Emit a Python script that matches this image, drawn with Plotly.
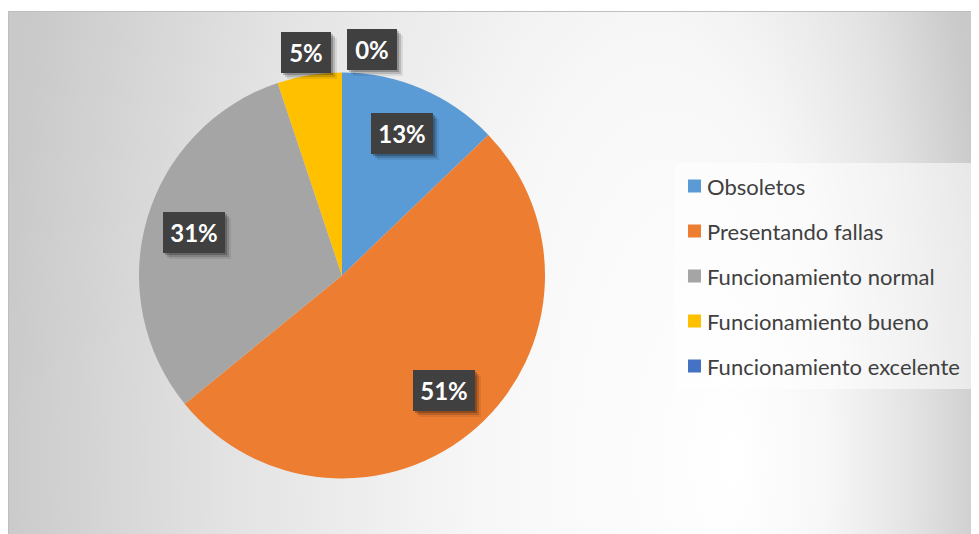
import base64
import math
import plotly.graph_objects as go

# ---------------- data ----------------
categories = ["Obsoletos", "Presentando fallas", "Funcionamiento normal",
              "Funcionamiento bueno", "Funcionamiento excelente"]
counts = [5, 20, 12, 2, 0]
colors = ["#5B9BD5", "#ED7D31", "#A5A5A5", "#FFC000", "#4472C4"]

# the page body has an 8px margin; the figure fills the rest of the window
OFF = 8
W, H = 979 - OFF, 534 - OFF

def px(x):  # page x -> paper
    return (x - OFF) / W

def py(y):  # page y -> paper
    return 1 - (y - OFF) / H

# pie geometry (page pixels)
CX, CY, R = 342, 275.5, 203

fig = go.Figure()
fig.add_trace(go.Pie(
    labels=categories, values=counts, sort=False, direction="clockwise",
    rotation=0, textinfo="none", showlegend=False,
    marker=dict(colors=colors, line=dict(width=0)),
    domain=dict(x=[px(CX - R), px(CX + R)], y=[py(CY + R), py(CY - R)]),
    hovertemplate="%{label}: %{percent}<extra></extra>",
))

# ---------------- background gradient ----------------
GW, GH = 971, 523
svg = f'''<svg xmlns="http://www.w3.org/2000/svg" width="{GW}" height="{GH}" viewBox="0 0 {GW} {GH}" preserveAspectRatio="none">
<defs><radialGradient id="g" gradientUnits="userSpaceOnUse" cx="487" cy="450" r="500" fx="730" fy="450"
 gradientTransform="translate(0,450) scale(1,2.4) translate(0,-450)">
<stop offset="0" stop-color="#ffffff"/><stop offset="0.35" stop-color="#f7f7f7"/>
<stop offset="0.7" stop-color="#e2e2e2"/><stop offset="1" stop-color="#c9c9c9"/>
</radialGradient></defs><rect x="0" y="0" width="{GW}" height="{GH}" fill="url(#g)"/></svg>'''
src = "data:image/svg+xml;base64," + base64.b64encode(svg.encode()).decode()

images = [dict(source=src, xref="paper", yref="paper", x=px(8), y=py(11),
               sizex=px(979) - px(8), sizey=py(11) - py(534),
               xanchor="left", yanchor="top", sizing="stretch", layer="below")]

shapes = [
    dict(type="rect", xref="paper", yref="paper", x0=px(8.5), x1=px(990), y0=py(11.5), y1=py(545),
         line=dict(color="#bfbfbf", width=1), fillcolor="rgba(0,0,0,0)", layer="above"),
    dict(type="rect", xref="paper", yref="paper", x0=px(675), x1=px(977), y0=py(163), y1=py(389),
         line=dict(width=0), fillcolor="rgba(255,255,255,0.55)", layer="above"),
]
annotations = []

# ---------------- manual legend ----------------
for i, (cat, col) in enumerate(zip(categories, colors)):
    yc = 186 + 45 * i
    shapes.append(dict(type="rect", xref="paper", yref="paper",
                       x0=px(688), x1=px(701), y0=py(yc + 6.5), y1=py(yc - 6.5),
                       line=dict(width=0), fillcolor=col, layer="above"))
    annotations.append(dict(text=cat, xref="paper", yref="paper", x=px(705), y=py(yc),
                            xanchor="left", yanchor="middle", showarrow=False,
                            font=dict(family="Lato", size=22, color="#404040")))

# ---------------- data labels ----------------
total = sum(counts)
cum = 0
for v in counts:
    frac = v / total
    mid = (cum + frac / 2) * 2 * math.pi
    cum += frac
    f = 0.76 if frac >= 0.1 else 1.115
    lx = CX + R * f * math.sin(mid)
    ly = CY - R * f * math.cos(mid)
    txt = f"{round(frac * 100)}%"
    bw = 62 if len(txt) > 2 else 50
    xanchor = "center"
    if v == 0:
        lx, xanchor = CX + 5, "left"
    common = dict(xref="paper", yref="paper", x=px(lx), y=py(ly), xanchor=xanchor,
                  yanchor="middle", showarrow=False, width=bw, height=41,
                  borderpad=0, borderwidth=0)
    # shadow
    for k, a in [(6, 0.08), (4, 0.15), (2, 0.22)]:
        annotations.append(dict(text="", bgcolor=f"rgba(0,0,0,{a})", xshift=k, yshift=-k, **common))
    annotations.append(dict(text=f"<b>{txt}</b>", bgcolor="#404040",
                            font=dict(family="Lato", size=24, color="#ffffff"), **common))

fig.update_layout(
    width=W, height=H, margin=dict(l=0, r=0, t=0, b=0),
    paper_bgcolor="#ffffff", plot_bgcolor="#ffffff",
    images=images, shapes=shapes, annotations=annotations, showlegend=False,
)
fig.write_html("out.html")
